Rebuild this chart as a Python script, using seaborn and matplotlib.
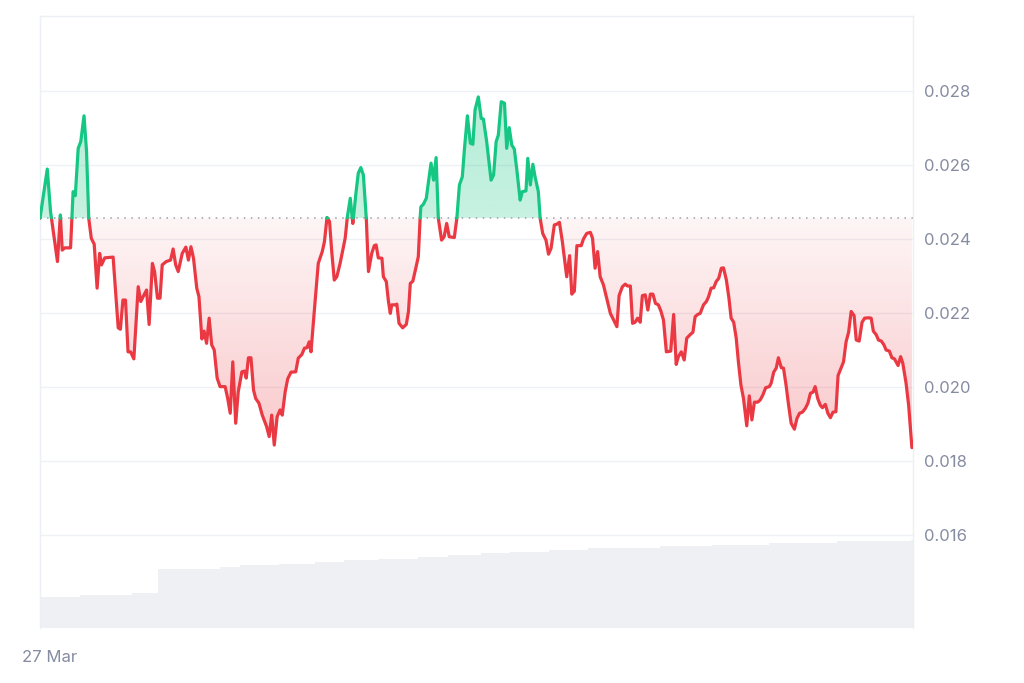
import numpy as np
import pandas as pd
import matplotlib
matplotlib.use("Agg")
import matplotlib.pyplot as plt
import seaborn as sns
from matplotlib.colors import to_rgb


# price, hours after the start of 27 Mar
hours = [0.00, 0.20, 0.29, 0.48, 0.56, 0.61, 0.68, 0.84, 0.91, 0.97, 1.05, 1.12, 1.21, 1.28, 1.34, 1.41,
         1.49, 1.57, 1.64, 1.69, 1.78, 2.01, 2.15, 2.21, 2.28, 2.35, 2.42, 2.49, 2.58, 2.70, 2.77, 2.88,
         2.93, 3.00, 3.09, 3.15, 3.23, 3.30, 3.36, 3.47, 3.59, 3.66, 3.73, 3.80, 3.91, 4.01,
         4.08, 4.15, 4.22, 4.31, 4.37, 4.45, 4.51, 4.58, 4.65, 4.72, 4.79, 4.87, 4.95, 5.09, 5.16, 5.23,
         5.30, 5.38, 5.45, 5.55, 5.62, 5.67, 5.73, 5.80, 5.87, 5.93, 6.02, 6.11, 6.23, 6.30, 6.37, 6.44,
         6.52, 6.60, 6.66, 6.74, 6.81, 6.90, 7.03, 7.10, 7.20, 7.27, 7.34, 7.40, 7.45, 7.54, 7.65, 7.76,
         7.82, 7.89, 7.96,
         8.02, 8.09, 8.16, 8.25, 8.39, 8.45, 8.53, 8.60, 8.69, 8.75, 8.82, 8.89, 8.97, 9.03, 9.12, 9.19,
         9.24, 9.30, 9.40, 9.44, 9.52, 9.58, 9.63, 9.67, 9.76, 9.81, 9.87, 9.97, 10.07, 10.13, 10.18,
         10.25, 10.34, 10.40, 10.45, 10.47, 10.54, 10.62, 10.68, 10.75, 10.82, 10.89, 10.95, 11.04, 11.11,
         11.18, 11.25, 11.39, 11.46, 11.53, 11.61, 11.67, 11.75, 11.83, 11.90, 11.96, 12.05,
         12.13, 12.19, 12.28, 12.40, 12.47, 12.54, 12.60, 12.68, 12.77, 12.83, 12.90, 12.97, 13.04, 13.11,
         13.20, 13.26, 13.36, 13.41, 13.48, 13.55, 13.61, 13.70, 13.75, 13.82, 13.91, 13.98, 14.05, 14.14,
         14.21, 14.28, 14.36, 14.48, 14.56, 14.62, 14.69, 14.76, 14.88, 14.94, 15.03, 15.13, 15.19, 15.26,
         15.33, 15.40, 15.49, 15.58, 15.68, 15.77, 15.86, 15.92, 16.01,
         16.09, 16.15, 16.23, 16.29, 16.36, 16.43, 16.50, 16.56, 16.64, 16.71, 16.78, 16.85, 16.92, 17.00,
         17.07, 17.14, 17.22, 17.34, 17.42, 17.49, 17.55, 17.63, 17.71, 17.78, 17.88, 17.95, 18.01, 18.08,
         18.15, 18.24, 18.32, 18.38, 18.45, 18.52, 18.59, 18.66, 18.73, 18.79, 18.87, 18.94, 19.00, 19.07,
         19.14, 19.20, 19.27, 19.34, 19.43, 19.50, 19.57, 19.64, 19.73, 19.80, 19.87, 19.95,
         20.05, 20.10, 20.17, 20.24, 20.30, 20.38, 20.44, 20.51, 20.58, 20.65, 20.74, 20.81, 20.88, 20.96,
         21.04, 21.11, 21.18, 21.25, 21.31, 21.38, 21.45, 21.51, 21.59, 21.66, 21.73, 21.80, 21.88, 21.94,
         22.02, 22.09, 22.16, 22.23, 22.30, 22.38, 22.44, 22.52, 22.60, 22.67, 22.78, 22.85, 22.91, 22.99,
         23.05, 23.13, 23.20, 23.26, 23.35, 23.42, 23.49, 23.59, 23.66, 23.72, 23.81, 23.88, 23.97]

price = [0.02456, 0.02589, 0.02474, 0.02339, 0.02465, 0.02370, 0.02376, 0.02376, 0.02528, 0.02517,
         0.02645, 0.02663, 0.02733, 0.02636, 0.02456, 0.02402, 0.02386, 0.02267, 0.02361, 0.02330,
         0.02349, 0.02351, 0.02160, 0.02156, 0.02235, 0.02235, 0.02095, 0.02095, 0.02076, 0.02271,
         0.02231, 0.02253, 0.02262, 0.02169, 0.02334, 0.02312, 0.02240, 0.02240, 0.02330, 0.02339,
         0.02343, 0.02373, 0.02330, 0.02312, 0.02361, 0.02378,
         0.02343, 0.02379, 0.02348, 0.02267, 0.02244, 0.02130, 0.02151, 0.02118, 0.02186, 0.02114,
         0.02100, 0.02024, 0.02001, 0.02001, 0.01969, 0.01929, 0.02068, 0.01902, 0.01987, 0.02041,
         0.02043, 0.02024, 0.02079, 0.02079, 0.01992, 0.01969, 0.01956, 0.01924, 0.01893, 0.01866,
         0.01924, 0.01843, 0.01920, 0.01938, 0.01924, 0.01987, 0.02022, 0.02040, 0.02041, 0.02078,
         0.02088, 0.02105, 0.02106, 0.02122, 0.02095, 0.02204, 0.02334, 0.02366, 0.02393, 0.02458,
         0.02447,
         0.02366, 0.02289, 0.02298, 0.02334, 0.02402, 0.02460, 0.02510, 0.02442, 0.02528, 0.02578,
         0.02593, 0.02573, 0.02456, 0.02312, 0.02361, 0.02382, 0.02384, 0.02349, 0.02348, 0.02298,
         0.02285, 0.02231, 0.02199, 0.02222, 0.02222, 0.02224, 0.02172, 0.02160, 0.02169, 0.02204,
         0.02280, 0.02286, 0.02325, 0.02352, 0.02456, 0.02487, 0.02494, 0.02510, 0.02555, 0.02605,
         0.02559, 0.02620, 0.02456, 0.02397, 0.02406, 0.02442, 0.02406, 0.02404, 0.02456, 0.02546,
         0.02568, 0.02645, 0.02733, 0.02659, 0.02656, 0.02749, 0.02784,
         0.02726, 0.02724, 0.02663, 0.02559, 0.02573, 0.02663, 0.02681, 0.02771, 0.02767, 0.02645,
         0.02701, 0.02654, 0.02643, 0.02586, 0.02505, 0.02528, 0.02530, 0.02618, 0.02546, 0.02602,
         0.02568, 0.02528, 0.02456, 0.02415, 0.02397, 0.02359, 0.02375, 0.02438, 0.02440, 0.02445,
         0.02393, 0.02298, 0.02355, 0.02251, 0.02259, 0.02382, 0.02382, 0.02400, 0.02415, 0.02418,
         0.02402, 0.02321, 0.02366, 0.02298, 0.02276, 0.02240, 0.02199, 0.02181, 0.02163, 0.02247,
         0.02271,
         0.02278, 0.02273, 0.02273, 0.02172, 0.02175, 0.02186, 0.02175, 0.02247, 0.02249, 0.02208,
         0.02251, 0.02251, 0.02226, 0.02222, 0.02205, 0.02181, 0.02095, 0.02097, 0.02196, 0.02061,
         0.02082, 0.02095, 0.02073, 0.02132, 0.02142, 0.02148, 0.02190, 0.02196, 0.02199, 0.02222,
         0.02231, 0.02244, 0.02267, 0.02268, 0.02285, 0.02294, 0.02321, 0.02322, 0.02289, 0.02240,
         0.02186, 0.02175, 0.02132, 0.02068, 0.02005, 0.01969, 0.01895, 0.01976, 0.01911, 0.01959,
         0.01959, 0.01965, 0.01978, 0.01998,
         0.02001, 0.02010, 0.02040, 0.02051, 0.02079, 0.02052, 0.02051, 0.02005, 0.01951, 0.01902,
         0.01886, 0.01915, 0.01929, 0.01932, 0.01942, 0.01956, 0.01983, 0.01986, 0.02001, 0.01969,
         0.01951, 0.01944, 0.01953, 0.01929, 0.01917, 0.01932, 0.01933, 0.02031, 0.02051, 0.02068,
         0.02122, 0.02148, 0.02204, 0.02193, 0.02127, 0.02124, 0.02175, 0.02186, 0.02187, 0.02186,
         0.02151, 0.02141, 0.02127, 0.02124, 0.02114, 0.02100, 0.02097, 0.02079, 0.02076, 0.02058,
         0.02082, 0.02064, 0.02010, 0.01951, 0.01836]

# volume (stepped), start hour of each step and its value
vol_start = [0.00, 1.10, 2.53, 3.25, 4.95, 5.50, 6.57, 7.56, 8.36, 9.30, 10.40, 11.22, 12.13, 12.93,
             13.10, 14.00, 15.07, 17.04, 18.47, 20.05, 21.90, 23.94]
vol_value = [3.15, 3.32, 3.52, 5.90, 6.07, 6.27, 6.44, 6.61, 6.77, 6.94, 7.11, 7.31, 7.48, 7.61,
             7.65, 7.81, 7.98, 8.18, 8.35, 8.52, 8.69, 8.85]

yticks = [0.016, 0.018, 0.020, 0.022, 0.024, 0.026, 0.028]
open_price = 0.02457

UP = "#16c784"
DOWN = "#ea3943"
GREY = "#858ca2"

sns.set_theme(style="white")
plt.rcParams["font.family"] = ["Inter", "DejaVu Sans"]
plt.rcParams["lines.solid_joinstyle"] = "round"
plt.rcParams["lines.solid_capstyle"] = "round"

# split the line into runs above / below the opening price
rows = []
seg = 0
side = price[0] >= open_price
rows.append((hours[0], price[0], side, seg))
for i in range(1, len(hours)):
    s = price[i] >= open_price
    if s != side:
        t = hours[i - 1] + (open_price - price[i - 1]) / (price[i] - price[i - 1]) * (hours[i] - hours[i - 1])
        rows.append((t, open_price, side, seg))
        seg += 1
        side = s
        rows.append((t, open_price, side, seg))
    rows.append((hours[i], price[i], side, seg))
df = pd.DataFrame(rows, columns=["hour", "price", "up", "seg"])
df["side"] = np.where(df["up"], "up", "down")


def gradient_fill(ax, x, y, color, a_lo, a_hi, y_lo, y_hi):
    coll = ax.fill_between(x, y, open_price, facecolor="none", edgecolor="none", lw=0)
    rgba = np.zeros((256, 1, 4))
    rgba[:, 0, :3] = to_rgb(color)
    rgba[:, 0, 3] = np.linspace(a_lo, a_hi, 256)
    im = ax.imshow(rgba, extent=[x[0], x[-1], y_lo, y_hi], origin="lower",
                   aspect="auto", interpolation="bilinear", zorder=1)
    im.set_clip_path(coll.get_paths()[0], transform=ax.transData)


fig = plt.figure(figsize=(10.24, 6.83), dpi=100)
ax = fig.add_axes([40 / 1024, 1 - 628 / 683, 873 / 1024, 612 / 683])
ax_vol = ax.twinx()

ax_vol.fill_between(vol_start + [24.0], vol_value + [vol_value[-1]], step="post",
                    color="#eef0f4", lw=0)
ax_vol.set_ylim(0, 61.2)
ax_vol.set_yticks([])
for s in ax_vol.spines.values():
    s.set_visible(False)

ax.set_zorder(ax_vol.get_zorder() + 1)
ax.patch.set_visible(False)

x = df["hour"].to_numpy()
p = df["price"].to_numpy()
gradient_fill(ax, x, np.minimum(p, open_price), DOWN, 0.28, 0.05, min(price), open_price)
gradient_fill(ax, x, np.maximum(p, open_price), UP, 0.24, 0.32, open_price, max(price))

ax.axhline(open_price, color="#9aa1ad", lw=1.1, ls=(0, (1, 3.6)), zorder=2)

sns.lineplot(data=df, x="hour", y="price", hue="side", units="seg", estimator=None,
             palette={"up": UP, "down": DOWN}, sort=False, legend=False, lw=2.3,
             ax=ax, zorder=3)

ax.set_xlim(0, 24)
ax.set_ylim(0.013486, 0.030027)
ax.set_yticks(yticks)
ax.set_yticklabels([f"{v:.3f}" for v in yticks])
ax.yaxis.tick_right()
ax.set_xticks([0.25])
ax.set_xticklabels(["27 Mar"])
ax.set_xlabel("")
ax.set_ylabel("")
ax.grid(axis="y", color="#eff1f5", lw=1)
ax.grid(axis="x", visible=False)
ax.tick_params(axis="y", length=0, pad=8, labelsize=12, labelcolor=GREY)
ax.tick_params(axis="x", length=0, pad=16, labelsize=12, labelcolor=GREY)
for s in ax.spines.values():
    s.set_color("#eceff3")
    s.set_linewidth(1)
ax.spines["bottom"].set_visible(False)

fig.savefig("out.png", dpi=100)
